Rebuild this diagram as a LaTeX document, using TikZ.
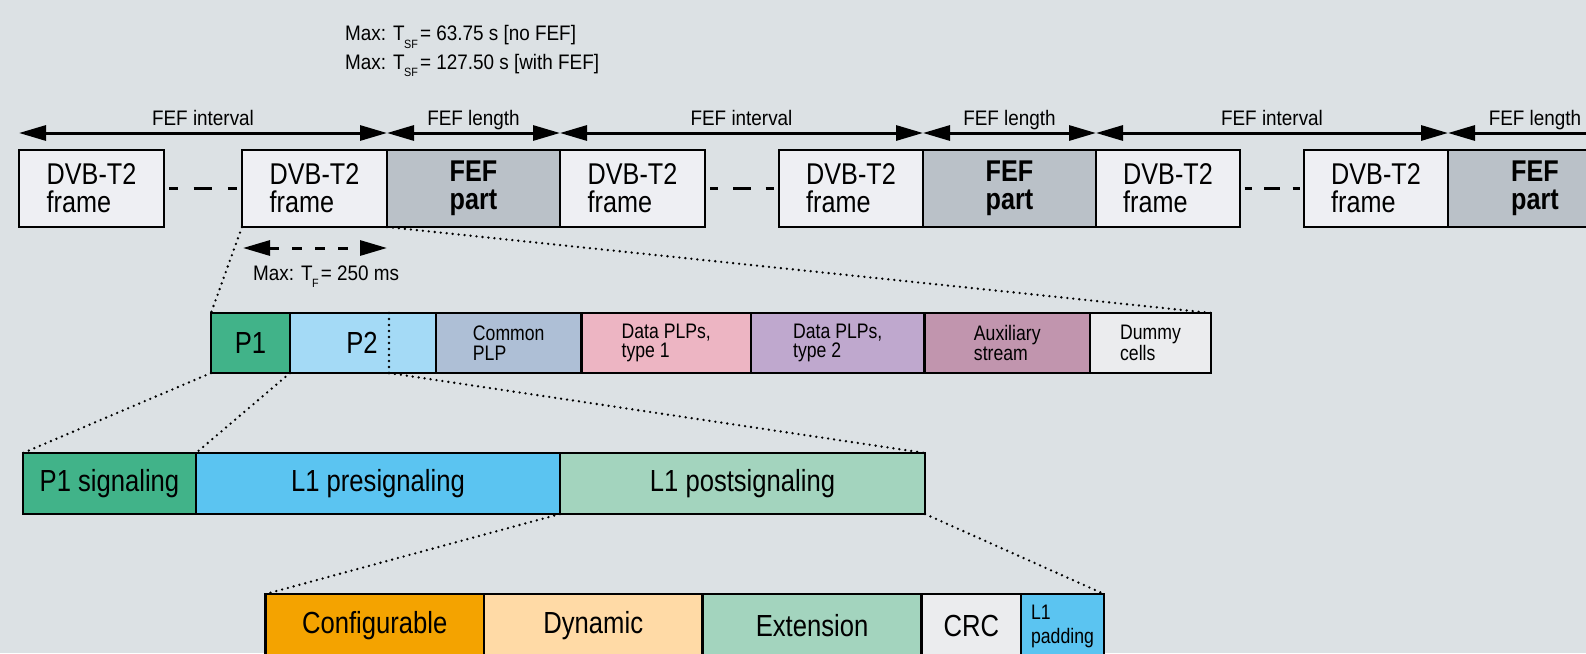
\documentclass[tikz,border=0pt]{standalone}
\usepackage{fontspec}
\usepackage{graphicx}
\setmainfont{Liberation Sans}[FakeStretch=0.84]
\newfontfamily\lblfont{Liberation Sans}[FakeStretch=0.9]
\usetikzlibrary{arrows.meta,calc}

\definecolor{bgc}{HTML}{DCE1E4}
\definecolor{framefill}{HTML}{EEEFF3}
\definecolor{feffill}{HTML}{BAC1C8}
\definecolor{pgreen}{HTML}{41B389}
\definecolor{plblue}{HTML}{A4DAF6}
\definecolor{pcommon}{HTML}{AEBFD6}
\definecolor{pdataa}{HTML}{EDB5C3}
\definecolor{pdatab}{HTML}{BFA8CE}
\definecolor{paux}{HTML}{C195AE}
\definecolor{pdummy}{HTML}{EBECEE}
\definecolor{lpre}{HTML}{5BC4F1}
\definecolor{lpost}{HTML}{A3D4BE}
\definecolor{lconf}{HTML}{F4A300}
\definecolor{ldyn}{HTML}{FFDAA6}

\newcommand\fsz[2]{\fontsize{#1}{#2}\selectfont}
\newcommand\lowidx[1]{\kern-0.5pt\raisebox{-7.5pt}{\fsz{12}{12}#1}\kern2pt}
% one coloured segment: name, x1, x2, y1, y2, options, text
\newcommand\segbox[7]{%
  \node[segment,#6,minimum width={#3-#2},minimum height={#5-#4}] (#1) at (#2,#4) {#7};}
% short-long-short dashes in the gap between two frames
\newcommand\gapdash[2]{%
  \foreach \s/\e in {0.07/0.18,0.38/0.62,0.82/0.93}{%
    \draw[gapline] ($(#1.east)!\s!(#2.west)$) -- ($(#1.east)!\e!(#2.west)$);}}

\begin{document}
\begin{tikzpicture}[x=1pt,y=-1pt,
  segment/.style={draw=black, line width=2.4pt, inner sep=0pt, outer sep=0pt,
    anchor=north west, align=left},
  frm/.style={fill=framefill, font=\fsz{30}{28}},
  fef/.style={fill=feffill, font=\fsz{30}{28}\bfseries},
  midtxt/.style={font=\fsz{21}{19.5}},
  bigtxt/.style={font=\fsz{30.5}{30}},
  gapline/.style={line width=2.6pt},
  dimarrow/.style={line width=3pt, {Triangle[length=27pt,width=15pt]}-{Triangle[length=27pt,width=15pt]}},
  dimlabel/.style={anchor=base, yshift=8pt, font=\lblfont\fsz{21}{21}},
  note/.style={anchor=base west, inner sep=0pt, font=\lblfont\fsz{21}{21}},
  dotline/.style={line width=2.6pt, line cap=round, dash pattern=on 0pt off 6pt}]

\useasboundingbox (0,0) rectangle (1586,653);
\clip (0,0) rectangle (1586,653);
\fill[bgc] (0,0) rectangle (1586,653);

% super-frame annotation
\node[note] (tsfa) at (345,40.7) {Max: T\lowidx{SF}= 63.75 s [no FEF]};
\node[note] (tsfb) at (345,69.3) {Max: T\lowidx{SF}= 127.50 s [with FEF]};

% T2 frames and FEF parts
\segbox{fa}{19}{164}{150}{227}{frm}{DVB-T2\\frame}
\segbox{fb}{242}{387}{150}{227}{frm}{DVB-T2\\frame}
\segbox{ea}{387}{560}{150}{227}{fef}{FEF\\part}
\segbox{fc}{560}{705}{150}{227}{frm}{DVB-T2\\frame}
\segbox{fd}{779}{923}{150}{227}{frm}{DVB-T2\\frame}
\segbox{eb}{923}{1096}{150}{227}{fef}{FEF\\part}
\segbox{fe}{1096}{1240}{150}{227}{frm}{DVB-T2\\frame}
\segbox{ff}{1304}{1448}{150}{227}{frm}{DVB-T2\\frame}
\segbox{ec}{1448}{1622}{150}{227}{fef}{FEF\\part}

\gapdash{fa}{fb}
\gapdash{fc}{fd}
\gapdash{fe}{ff}

% FEF interval / length dimensions
\coordinate (t0) at ($(fa.north west)+(0,-17)$);
\coordinate (t1) at ($(ea.north west)+(0,-17)$);
\coordinate (t2) at ($(ea.north east)+(0,-17)$);
\coordinate (t3) at ($(eb.north west)+(0,-17)$);
\coordinate (t4) at ($(eb.north east)+(0,-17)$);
\coordinate (t5) at ($(ec.north west)+(0,-17)$);
\coordinate (t6) at ($(ec.north east)+(0,-17)$);
\draw[dimarrow] (t0) -- (t1) node[midway, dimlabel] {FEF interval};
\draw[dimarrow] (t1) -- (t2) node[midway, dimlabel] {FEF length};
\draw[dimarrow] (t2) -- (t3) node[midway, dimlabel] {FEF interval};
\draw[dimarrow] (t3) -- (t4) node[midway, dimlabel] {FEF length};
\draw[dimarrow] (t4) -- (t5) node[midway, dimlabel] {FEF interval};
\draw[dimarrow] (t5) -- (t6) node[midway, dimlabel] {FEF length};

% frame duration
\coordinate (d0) at ($(fb.south west)+(1,21)$);
\coordinate (d1) at ($(fb.south east)+(0,21)$);
\draw[dimarrow, dash pattern=on 10pt off 13pt] (d0) -- (d1);
\node[note] (tf) at (253,280) {Max: T\lowidx{F}= 250 ms};

% T2 frame content
\segbox{pa}{211}{290}{313}{373}{fill=pgreen,bigtxt,align=center}{P1}
\segbox{pb}{290}{436}{313}{373}{fill=plblue}{}
\node[bigtxt] (ptwo) at (362,343) {P2};
\coordinate (q0) at ($(pb.north west)+(99,0)$);
\coordinate (q1) at ($(pb.south west)+(99,0)$);
\draw[dotline] (q0) -- (q1);
\segbox{pc}{436}{581.5}{313}{373}{fill=pcommon,midtxt}{Common\\PLP}
\segbox{pd}{581.5}{751}{313}{373}{fill=pdataa,midtxt}{Data PLPs,\\type 1}
\segbox{pe}{751}{924.5}{313}{373}{fill=pdatab,midtxt}{Data PLPs,\\type 2}
\segbox{pf}{924.5}{1090}{313}{373}{fill=paux,midtxt}{Auxiliary\\stream}
\segbox{pg}{1090}{1211}{313}{373}{fill=pdummy,midtxt}{Dummy\\cells}

% signalling
\segbox{sa}{23}{196}{453}{514}{fill=pgreen,bigtxt}{P1 signaling}
\segbox{sb}{196}{560}{453}{514}{fill=lpre,bigtxt}{L1 presignaling}
\segbox{sc}{560}{925}{453}{514}{fill=lpost,bigtxt}{L1 postsignaling}

% L1 postsignalling content
\segbox{ba}{265.5}{484}{594}{658}{fill=lconf,bigtxt}{Configurable}
\segbox{bb}{484}{702.5}{594}{658}{fill=ldyn,bigtxt}{Dynamic}
\segbox{bc}{702.5}{921.5}{594}{658}{fill=lpost,bigtxt}{Extension}
\segbox{bd}{921.5}{1021}{594}{658}{fill=pdummy,bigtxt}{CRC}
\segbox{be}{1021}{1104}{594}{658}{fill=lpre,font=\fsz{21}{24}}{L1\\padding}

% zoom-in guides
\draw[dotline] (fb.south west) -- (pa.north west);
\draw[dotline] (ea.south west) -- (pg.north east);
\draw[dotline] (pa.south west) -- (sa.north west);
\draw[dotline] (pb.south west) -- (sb.north west);
\draw[dotline] (q1) -- (sc.north east);
\draw[dotline] (sc.south west) -- (ba.north west);
\draw[dotline] (sc.south east) -- (be.north east);
\end{tikzpicture}
\end{document}
